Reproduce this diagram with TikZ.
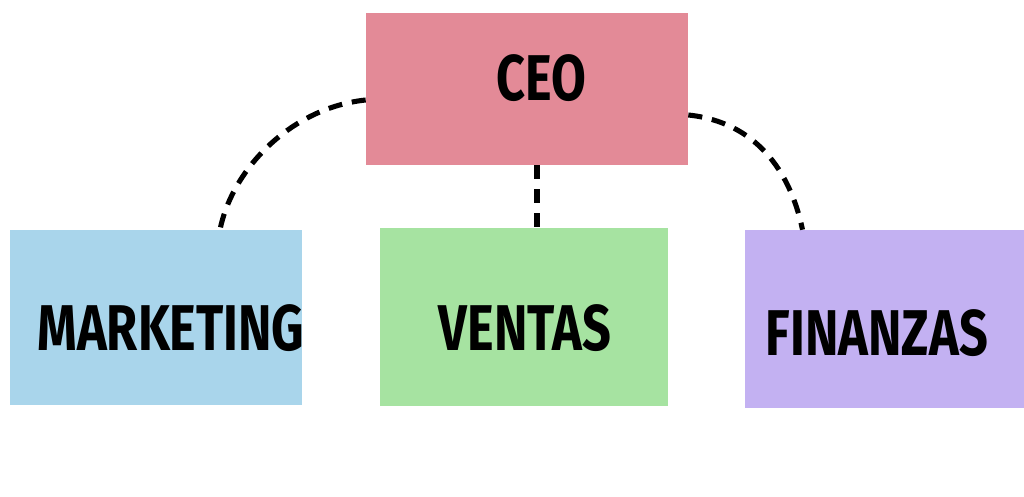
\documentclass[tikz,border=0pt]{standalone}
\usepackage{fontspec}
\usepackage{graphicx}
\newfontfamily\handfont{Fira Sans}
\definecolor{ceoc}{HTML}{E38A97}
\definecolor{mktc}{HTML}{A9D5EB}
\definecolor{venc}{HTML}{A6E3A1}
\definecolor{finc}{HTML}{C3B1F2}
\tikzset{
  box/.style={draw=none, rectangle, inner sep=0pt},
  lbl/.style={inner sep=0pt, font=\handfont\bfseries\fontsize{46}{46}\selectfont, text=black},
  link/.style={line width=3.6pt, dash pattern=on 10pt off 7pt, black}
}
\begin{document}
\begin{tikzpicture}[x=0.025cm,y=-0.025cm]
\useasboundingbox[fill=white] (0,0) rectangle (1024,497);
\node[box, fill=ceoc, minimum width=8.05cm, minimum height=3.8cm] (ceo) at (527,89) {};
\node[box, fill=mktc, minimum width=7.3cm, minimum height=4.375cm] (mkt) at (156,317.5) {};
\node[box, fill=venc, minimum width=7.2cm, minimum height=4.45cm] (ven) at (524,317) {};
\node[box, fill=finc, minimum width=6.975cm, minimum height=4.45cm] (fin) at (884.5,319) {};
\node[lbl] (tceo) at (541,78) {\scalebox{0.78}[1]{CEO}};
\node[lbl] (tmkt) at (171,328) {\scalebox{0.78}[1]{MARKETING}};
\node[lbl] (tven) at (525,328) {\scalebox{0.78}[1]{VENTAS}};
\node[lbl] (tfin) at (877,333) {\scalebox{0.78}[1]{FINANZAS}};
\coordinate (c1) at ([yshift=-11*0.025cm]ceo.west);
\coordinate (c2) at ([yshift=-26*0.025cm]ceo.east);
\draw[link] (c1) .. controls (290,108) and (232,170) .. ([xshift=64*0.025cm]mkt.north);
\draw[link] (ceo.south -| 537,0) -- (ven.north -| 537,0);
\draw[link] (c2) .. controls (755,122) and (790,170) .. ([xshift=-82*0.025cm]fin.north);
\end{tikzpicture}
\end{document}
